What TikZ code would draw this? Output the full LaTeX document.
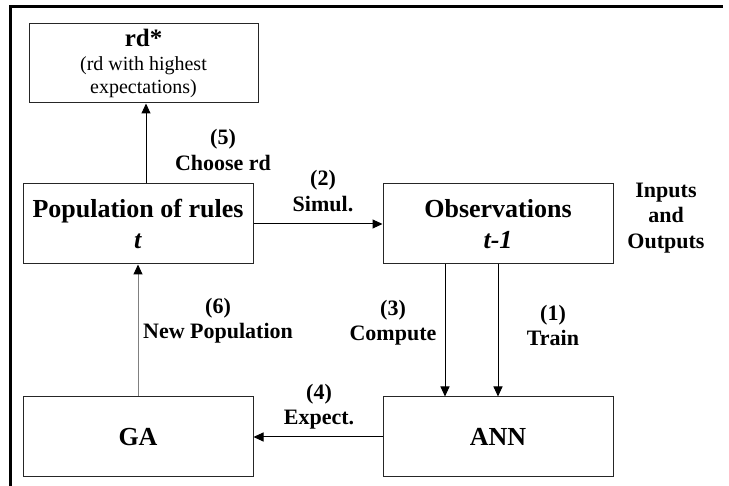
\documentclass[tikz,border=0pt]{standalone}
\usepackage{fontspec}
\setmainfont{Liberation Serif}
\usetikzlibrary{arrows.meta,positioning}
\tikzset{
  block/.style={draw=black!85,line width=1pt,minimum width=230pt,minimum height=80pt,inner sep=0pt,align=center,font=\fontsize{26}{31}\selectfont\bfseries},
  steplabel/.style={align=center,inner sep=0pt,font=\fontsize{22}{25.5}\selectfont\bfseries},
  flow/.style={-{Triangle[length=10pt,width=9pt,color=black]},line width=1pt},
}

\begin{document}
\begin{tikzpicture}[x=1pt,y=1pt]
\useasboundingbox (0,0) rectangle (729,486);
\draw[line width=3pt] (10.5,0) -- (10.5,479) -- (723,479);
\node[block,minimum width=229pt,minimum height=79pt,font=\fontsize{20}{23.5}\selectfont] (rdstar) at (143.5,422.5) {{\fontsize{25}{23.5}\selectfont\bfseries rd*}\\(rd with highest\\expectations)};
\node[block] (pop) at (138,262) {Population of rules\\\textit{t}};
\node[block] (obs) at (498,262) {Observations\\\textit{t-1}};
\node[block] (ga) at (138,49) {GA};
\node[block] (ann) at (498,49) {ANN};
\node[steplabel] (lchoose) at (223,336) {(5)\\Choose rd};
\node[steplabel] (lsimul) at (323,295) {(2)\\Simul.};
\node[steplabel] (lio) at (666,268) {Inputs\\and\\Outputs};
\node[steplabel] (lnewpop) at (218,165.5) {(6)\\New Population};
\node[steplabel] (lcompute) at (393,163.5) {(3)\\Compute};
\node[steplabel] (ltrain) at (553,160.5) {(1)\\Train};
\node[steplabel] (lexpect) at (319,79.5) {(4)\\Expect.};
\draw[flow] ([xshift=8pt]pop.north) -- ([xshift=8pt]pop.north |- rdstar.south);
\draw[flow] (pop.east) -- (obs.west);
\draw[flow] ([xshift=-53pt]obs.south) -- ([xshift=-53pt]obs.south |- ann.north);
\draw[flow] (obs.south) -- (ann.north);
\draw[flow] (ann.west) -- (ga.east);
\draw[flow,gray] (ga.north) -- (pop.south);
\end{tikzpicture}
\end{document}
